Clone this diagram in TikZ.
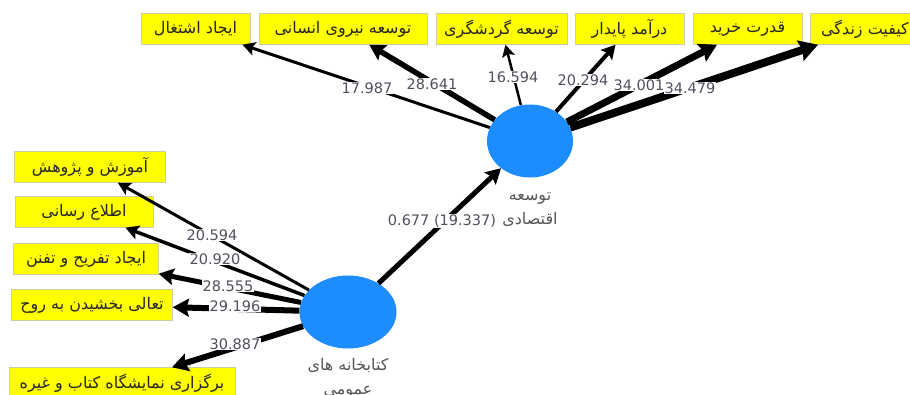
\documentclass[tikz,border=0pt]{standalone}
\usepackage{fontspec}
\usetikzlibrary{shapes.geometric,arrows.meta}
\TeXXeTstate=1
\setmainfont{DejaVu Sans}
\newfontfamily\farsi[Script=Arabic]{DejaVu Sans}
\definecolor{boxfill}{RGB}{255,255,0}
\definecolor{boxline}{RGB}{205,205,160}
\definecolor{latent}{RGB}{28,140,255}
\definecolor{numgray}{RGB}{80,80,95}
\definecolor{txtgray}{RGB}{85,85,85}
\tikzset{
  item/.style={draw=boxline, fill=boxfill, minimum height=31pt, inner sep=0pt,
    text=black!85, font=\farsi\fontsize{16}{18}\selectfont},
  factor/.style={ellipse, fill=latent, minimum height=73pt, inner sep=0pt},
  coef/.style={fill=white, inner sep=1pt, text=numgray, font=\fontsize{14.5}{16}\selectfont},
  latname/.style={text=txtgray, align=center, font=\farsi\fontsize{16}{24}\selectfont},
  link/.style={-{Stealth[length=9pt 1.2, width=9pt 1.5, inset=2.5pt]}},
}
\begin{document}
\begin{tikzpicture}[x=1pt,y=-1pt]
\useasboundingbox (0,0) rectangle (910,394);

\node[factor, minimum width=86pt] (E) at (530,141) {};
\node[factor, minimum width=97pt] (L) at (348,312) {};

\node[item, minimum width=109pt] (t1) at (195.5,29) {\beginR ایجاد اشتغال\endR};
\node[item, minimum width=168pt] (t2) at (343,29) {\beginR توسعه نیروی انسانی\endR};
\node[item, minimum width=131pt] (t3) at (501.5,29) {\beginR توسعه گردشگری\endR};
\node[item, minimum width=109pt] (t4) at (629.5,29) {\beginR درآمد پایدار\endR};
\node[item, minimum width=109pt] (t5) at (747.5,29) {\beginR قدرت خرید\endR};
\node[item, minimum width=109pt] (t6) at (865,29) {\beginR کیفیت زندگی\endR};

\node[item, minimum width=151pt] (s1) at (90,167) {\beginR آموزش و پژوهش\endR};
\node[item, minimum width=138pt] (s2) at (84,212) {\beginR اطلاع رسانی\endR};
\node[item, minimum width=145pt] (s3) at (86,259) {\beginR ایجاد تفریح و تفنن\endR};
\node[item, minimum width=161pt] (s4) at (92,305) {\beginR تعالی بخشیدن به روح\endR};
\node[item, minimum width=226pt] (s5) at (122,383) {\beginR برگزاری نمایشگاه کتاب و غیره\endR};

\draw[link, line width=3pt] (E) -- (t1);
\draw[link, line width=5.5pt] (E) -- (t2);
\draw[link, line width=2.5pt] (E) -- (t3);
\draw[link, line width=4pt] (E) -- (t4);
\draw[link, line width=7pt] (E) -- (t5);
\draw[link, line width=8pt] (E) -- (t6);

\draw[link, line width=3pt] (L) -- (s1);
\draw[link, line width=3.5pt] (L) -- (s2);
\draw[link, line width=5pt] (L) -- (s3);
\draw[link, line width=6pt] (L) -- (s4);
\draw[link, line width=6pt] (L) -- (s5);
\draw[link, line width=5pt] (L) -- (E);

\node[coef] (c1) at (367,88) {17.987};
\node[coef] (c2) at (432,84) {28.641};
\node[coef] (c3) at (513,77) {16.594};
\node[coef] (c4) at (583,80) {20.294};
\node[coef] (c6) at (690,88) {34.479};
\node[coef] (c5) at (639,85) {34.001};

\node[coef] (d1) at (212,235) {20.594};
\node[coef] (d2) at (215,259) {20.920};
\node[coef] (d3) at (228,286) {28.555};
\node[coef] (d4) at (235,306) {29.196};
\node[coef] (d5) at (235,344) {30.887};

\node[coef] (m) at (442,221) {0.677 (19.337)};

\node[latname] (En) at (530,210) {\beginR توسعه\endR\\\beginR اقتصادی\endR};
\node[latname] (Ln) at (348,378) {\beginR کتابخانه های\endR\\\beginR عمومی\endR};
%\draw[dashed] (E) -- (L);
\end{tikzpicture}
\end{document}
